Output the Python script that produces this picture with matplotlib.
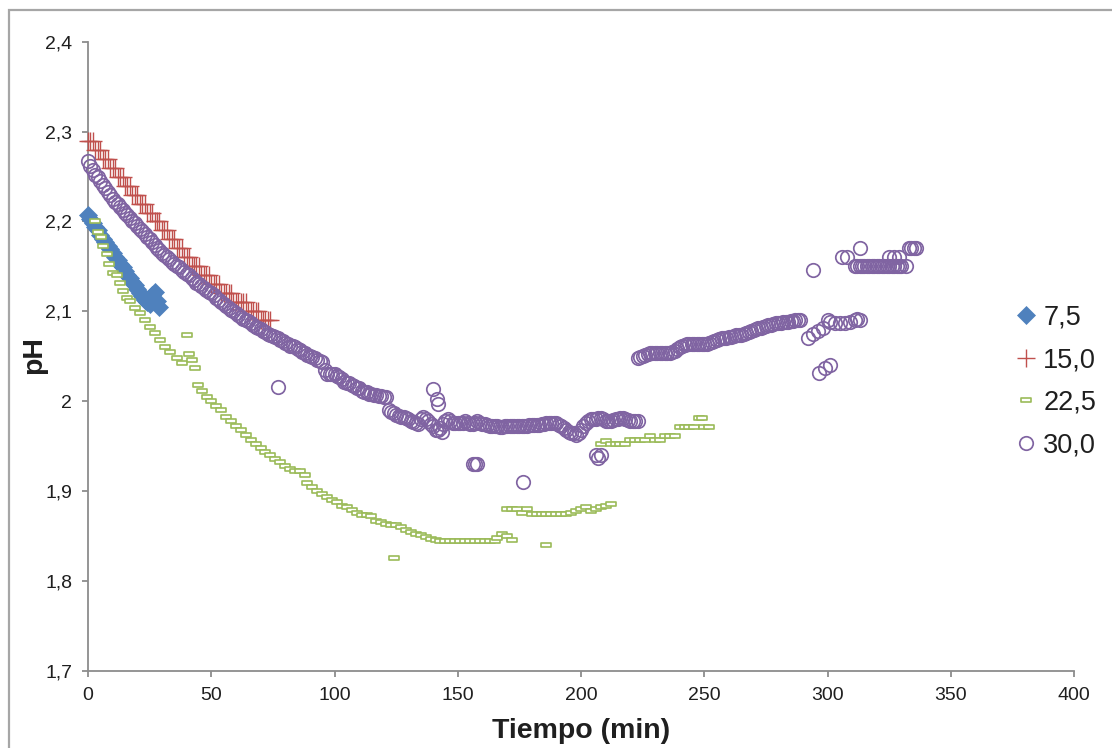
import numpy as np
import matplotlib
matplotlib.use("Agg")
import matplotlib.pyplot as plt
from matplotlib.path import Path
from matplotlib.patches import Rectangle

plt.rcParams['font.family'] = ['Liberation Sans', 'DejaVu Sans']

# ---------------- data ----------------
series_labels = ['7,5', '15,0', '22,5', '30,0']

# 7,5
blue_x = np.arange(0, 30)
blue_y = [2.207, 2.203, 2.198, 2.194, 2.190, 2.185, 2.181, 2.177, 2.173, 2.169,
          2.165, 2.161, 2.157, 2.153, 2.149, 2.145, 2.141, 2.137, 2.133, 2.129,
          2.125, 2.121, 2.117, 2.113, 2.110, 2.108, 2.118, 2.122, 2.112, 2.105]

# 15,0
red_x = np.arange(0, 75)
red_y = [2.29, 2.29, 2.29, 2.28, 2.28, 2.28, 2.27, 2.27, 2.27, 2.26,
         2.26, 2.26, 2.25, 2.25, 2.25, 2.24, 2.24, 2.24, 2.23, 2.23,
         2.23, 2.22, 2.22, 2.22, 2.21, 2.21, 2.21, 2.20, 2.20, 2.20,
         2.19, 2.19, 2.19, 2.18, 2.18, 2.18, 2.17, 2.17, 2.17, 2.16,
         2.16, 2.16, 2.15, 2.15, 2.15, 2.15, 2.14, 2.14, 2.14, 2.14,
         2.13, 2.13, 2.13, 2.13, 2.12, 2.12, 2.12, 2.12, 2.12, 2.11,
         2.11, 2.11, 2.11, 2.11, 2.11, 2.10, 2.10, 2.10, 2.10, 2.10,
         2.09, 2.09, 2.09, 2.09, 2.09]

# 22,5
green_x = [2.8, 4.1, 5.3, 6.1, 7.7, 8.5, 10.1, 11.8, 13, 14.2,
           15.8, 17, 19.1, 21.1, 23.1, 25.2, 27.2, 29.2, 31.2, 33.3,
           36.1, 38.1, 40.2, 41, 42.2, 43.4, 44.6, 46.2, 48.3, 50,
           52, 54, 56, 58, 60, 62, 64, 66, 68, 70,
           72, 74, 76, 78, 80, 82, 84, 86, 88, 89,
           91, 93, 95, 97, 99, 101, 103, 105, 107, 109,
           111, 113, 115, 117, 119, 121, 123, 124, 125, 127,
           129, 131, 133, 135, 137, 139, 141, 143, 145, 147,
           149, 151, 153, 155, 157, 159, 161, 163, 165, 166,
           168, 170, 172,
           170, 172, 174, 176, 178, 180, 182, 184, 186, 186,
           188, 190, 192, 194, 196, 198, 200, 202, 204, 206,
           208, 210, 212,
           208, 210, 212, 214, 216, 218, 220, 222, 224, 226,
           228, 230, 232, 234, 236, 238, 240, 242, 244, 246,
           248, 249, 250, 252]
green_y = [2.200, 2.188, 2.183, 2.173, 2.164, 2.153, 2.143, 2.141, 2.132, 2.123,
           2.115, 2.112, 2.104, 2.098, 2.090, 2.083, 2.076, 2.068, 2.060, 2.055,
           2.048, 2.043, 2.074, 2.053, 2.046, 2.037, 2.018, 2.012, 2.005, 2.000,
           1.995, 1.990, 1.983, 1.978, 1.973, 1.968, 1.962, 1.957, 1.952, 1.948,
           1.944, 1.940, 1.936, 1.932, 1.928, 1.925, 1.922, 1.922, 1.918, 1.909,
           1.905, 1.900, 1.897, 1.893, 1.890, 1.888, 1.884, 1.882, 1.879, 1.876,
           1.874, 1.873, 1.872, 1.867, 1.866, 1.864, 1.862, 1.826, 1.862, 1.860,
           1.857, 1.855, 1.852, 1.851, 1.849, 1.847, 1.846, 1.845, 1.845, 1.845,
           1.845, 1.845, 1.845, 1.845, 1.845, 1.845, 1.845, 1.845, 1.845, 1.848,
           1.852, 1.850, 1.846,
           1.880, 1.880, 1.880, 1.876, 1.880, 1.875, 1.875, 1.875, 1.875, 1.840,
           1.875, 1.875, 1.875, 1.875, 1.876, 1.878, 1.880, 1.882, 1.878, 1.880,
           1.882, 1.884, 1.886,
           1.953, 1.956, 1.953, 1.953, 1.953, 1.953, 1.957, 1.957, 1.957, 1.957,
           1.961, 1.957, 1.957, 1.961, 1.961, 1.961, 1.971, 1.971, 1.971, 1.971,
           1.981, 1.981, 1.971, 1.971]

# 30,0
purple_x1 = np.arange(0, 224)
purple_y1 = [2.267, 2.262, 2.257, 2.252, 2.249, 2.245, 2.241, 2.237, 2.233, 2.229,
             2.225, 2.222, 2.219, 2.216, 2.213, 2.210, 2.207, 2.204, 2.201, 2.198,
             2.195, 2.192, 2.189, 2.186, 2.183, 2.180, 2.177, 2.174, 2.171, 2.168,
             2.165, 2.163, 2.160, 2.158, 2.155, 2.153, 2.151, 2.149, 2.146, 2.144,
             2.142, 2.140, 2.137, 2.135, 2.132, 2.130, 2.128, 2.126, 2.124, 2.122,
             2.120, 2.118, 2.115, 2.113, 2.110, 2.108, 2.106, 2.104, 2.102, 2.100,
             2.098, 2.096, 2.094, 2.092, 2.090, 2.089, 2.087, 2.085, 2.083, 2.082,
             2.080, 2.078, 2.077, 2.075, 2.074, 2.073, 2.071, 2.070, 2.068, 2.067,
             2.065, 2.064, 2.062, 2.061, 2.060, 2.058, 2.057, 2.055, 2.054, 2.052,
             2.050, 2.049, 2.048, 2.046, 2.045, 2.044, 2.035, 2.030, 2.030, 2.030,
             2.030, 2.028, 2.027, 2.025, 2.022, 2.020, 2.020, 2.018, 2.017, 2.015,
             2.015, 2.012, 2.010, 2.010, 2.008, 2.008, 2.007, 2.007, 2.006, 2.006,
             2.005, 2.005, 1.990, 1.988, 1.987, 1.985, 1.984, 1.983, 1.982, 1.981,
             1.980, 1.978, 1.977, 1.976, 1.975, 1.980, 1.982, 1.980, 1.978, 1.975,
             1.972, 1.968, 1.968, 1.970, 1.975, 1.978, 1.980, 1.978, 1.976, 1.976,
             1.976, 1.976, 1.976, 1.978, 1.976, 1.975, 1.975, 1.976, 1.978, 1.976,
             1.975, 1.975, 1.974, 1.973, 1.972, 1.972, 1.972, 1.971, 1.971, 1.972,
             1.972, 1.972, 1.972, 1.973, 1.973, 1.973, 1.973, 1.973, 1.973, 1.974,
             1.974, 1.974, 1.974, 1.974, 1.975, 1.975, 1.976, 1.976, 1.976, 1.976,
             1.976, 1.974, 1.972, 1.970, 1.968, 1.966, 1.965, 1.965, 1.963, 1.965,
             1.968, 1.972, 1.976, 1.978, 1.980, 1.980, 1.980, 1.981, 1.981, 1.980,
             1.978, 1.978, 1.978, 1.979, 1.980, 1.980, 1.981, 1.981, 1.980, 1.979,
             1.978, 1.978, 1.978, 1.978]
purple_x2 = np.arange(223, 290)
purple_y2 = [2.048, 2.049, 2.050, 2.052, 2.053, 2.054, 2.054, 2.054, 2.054, 2.054,
             2.054, 2.054, 2.054, 2.054, 2.055, 2.056, 2.058, 2.060, 2.062, 2.063,
             2.064, 2.064, 2.064, 2.064, 2.064, 2.064, 2.064, 2.064, 2.064, 2.065,
             2.066, 2.067, 2.068, 2.069, 2.070, 2.070, 2.070, 2.071, 2.072, 2.073,
             2.074, 2.074, 2.074, 2.075, 2.076, 2.077, 2.078, 2.079, 2.080, 2.081,
             2.082, 2.083, 2.084, 2.085, 2.085, 2.086, 2.087, 2.087, 2.087, 2.088,
             2.088, 2.088, 2.089, 2.089, 2.090, 2.090, 2.090]
purple_x3 = [77, 140, 141.5, 142, 143.5, 156, 157, 158, 176.5, 206, 207, 208,
             292, 294, 296, 298, 296.5, 298.9, 301,
             300, 301, 303, 305, 307, 309, 311, 312, 313,
             294, 306, 308, 313,
             311, 312, 313, 314, 315, 316, 317, 318, 319, 320, 321, 322, 323, 324,
             325, 326, 327, 328, 329, 325, 327, 329, 330, 332,
             333, 334, 335, 336]
purple_y3 = [2.016, 2.014, 2.003, 1.997, 1.966, 1.930, 1.930, 1.930, 1.910, 1.940, 1.937, 1.940,
             2.070, 2.075, 2.078, 2.082, 2.031, 2.037, 2.040,
             2.090, 2.088, 2.087, 2.087, 2.087, 2.088, 2.090, 2.092, 2.090,
             2.146, 2.160, 2.160, 2.170,
             2.150, 2.150, 2.150, 2.150, 2.150, 2.150, 2.150, 2.150, 2.150, 2.150, 2.150, 2.150, 2.150, 2.150,
             2.150, 2.150, 2.150, 2.150, 2.150, 2.160, 2.160, 2.160, 2.150, 2.150,
             2.170, 2.170, 2.170, 2.170]

x_ticks = [0, 50, 100, 150, 200, 250, 300, 350, 400]
y_ticks = [1.7, 1.8, 1.9, 2.0, 2.1, 2.2, 2.3, 2.4]
y_tick_labels = ['1,7', '1,8', '1,9', '2', '2,1', '2,2', '2,3', '2,4']

# ---------------- styling ----------------
C_BLUE = '#4F81BD'
C_RED = '#C0504D'
C_GREEN = '#9BBB59'
C_PURPLE = '#8064A2'
AXIS_C = '#8C8C8C'
TXT_C = '#1F1F1F'

rect_marker = Path([(-0.5, -0.21), (0.5, -0.21), (0.5, 0.21), (-0.5, 0.21), (-0.5, -0.21)],
                   [Path.MOVETO, Path.LINETO, Path.LINETO, Path.LINETO, Path.CLOSEPOLY])

W, H = 1112, 748
fig = plt.figure(figsize=(W / 100, H / 100), dpi=100)
ax = fig.add_axes([88 / W, 1 - 671 / H, (1074 - 88) / W, (671 - 41.7) / H])

h_blue, = ax.plot(blue_x, blue_y, linestyle='none', marker='D', ms=9.5, mfc=C_BLUE,
                  mec=C_BLUE, mew=0.5, clip_on=False, zorder=3)
h_red, = ax.plot(red_x, red_y, linestyle='none', marker='+', ms=13, mec=C_RED,
                 mew=1.0, clip_on=False, zorder=4)
h_green, = ax.plot(green_x, green_y, linestyle='none', marker=rect_marker, ms=7.8,
                   mfc='white', mec=C_GREEN, mew=1.2, clip_on=False, zorder=5)
h_purple, = ax.plot(purple_x1, purple_y1, linestyle='none', marker='o', ms=9.7,
                    mfc='none', mec=C_PURPLE, mew=1.25, clip_on=False, zorder=6)
ax.plot(purple_x2, purple_y2, linestyle='none', marker='o', ms=9.7,
        mfc='none', mec=C_PURPLE, mew=1.25, clip_on=False, zorder=6)
ax.plot(purple_x3, purple_y3, linestyle='none', marker='o', ms=9.7,
        mfc='none', mec=C_PURPLE, mew=1.25, clip_on=False, zorder=6)

ax.set_xlim(0, 400)
ax.set_ylim(1.7, 2.4)
ax.set_xticks(x_ticks)
ax.set_yticks(y_ticks)
ax.set_yticklabels(y_tick_labels)
for s in ['top', 'right']:
    ax.spines[s].set_visible(False)
for s in ['left', 'bottom']:
    ax.spines[s].set_color(AXIS_C)
    ax.spines[s].set_linewidth(1.3)
ax.tick_params(axis='both', direction='out', length=4, width=1.3, color=AXIS_C,
               labelsize=14, labelcolor=TXT_C, pad=7.5)

ax.set_xlabel('Tiempo (min)', fontsize=20.5, fontweight='bold', color=TXT_C, labelpad=10)
ax.set_ylabel('pH', fontsize=20.5, fontweight='bold', color=TXT_C, labelpad=0)
ax.yaxis.set_label_coords(47 / W, 1 - 355 / H, transform=fig.transFigure)

leg = ax.legend([h_blue, h_red, h_green, h_purple], series_labels,
                loc='center left', bbox_to_anchor=(1012 / W, 1 - 381.5 / H),
                bbox_transform=fig.transFigure, frameon=False, fontsize=19.5,
                handlelength=1.0, handletextpad=0.15, labelspacing=0.62,
                borderpad=0, borderaxespad=0, numpoints=1)
for t in leg.get_texts():
    t.set_color(TXT_C)

# outer chart-area frame
fig.patches.append(Rectangle((9 / W, -0.1), 1.2, 1.1 - 10 / H, transform=fig.transFigure,
                             fill=False, edgecolor='#A6A6A6', linewidth=1.6, zorder=0))

fig.savefig('out.png', dpi=100)
